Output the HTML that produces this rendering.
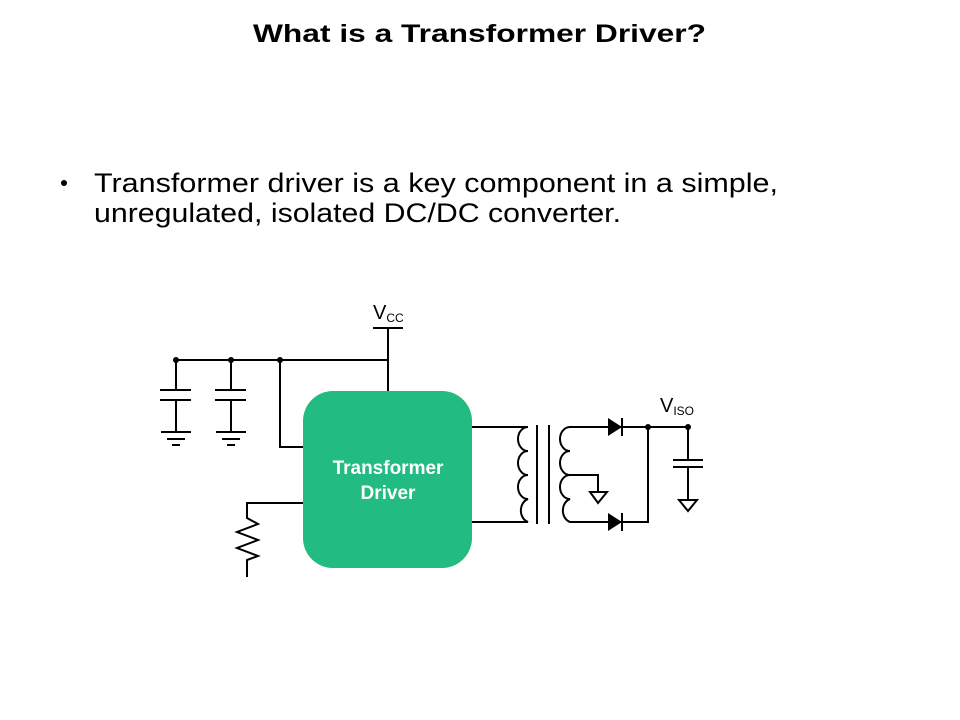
<!DOCTYPE html>
<html><head><meta charset="utf-8"><style>html,body{margin:0;padding:0;background:#fff}svg{display:block}</style></head>
<body>
<svg width="960" height="720" viewBox="0 0 960 720" xmlns="http://www.w3.org/2000/svg" font-family="Liberation Sans, sans-serif">
<text x="253" y="42" font-size="25" font-weight="bold" textLength="453" lengthAdjust="spacingAndGlyphs">What is a Transformer Driver?</text>
<circle cx="64" cy="183" r="3" fill="#000"/>
<text x="94" y="192" font-size="27" textLength="684" lengthAdjust="spacingAndGlyphs">Transformer driver is a key component in a simple,</text>
<text x="94" y="222" font-size="27" textLength="527" lengthAdjust="spacingAndGlyphs">unregulated, isolated DC/DC converter.</text>

<g stroke="#000" stroke-width="2" fill="none">
<line x1="373" y1="328" x2="403" y2="328"/>
<line x1="388" y1="328" x2="388" y2="392"/>
<line x1="176" y1="360" x2="388" y2="360"/>
<path d="M176 360V390M160 390H191M160 400H191M176 400V432M161 432H191M167 439H185M172 445H180"/>
<path d="M231 360V390M215 390H246M215 400H246M231 400V432M216 432H246M222 439H240M227 445H235"/>
<path d="M280 360V447H304"/>
<path d="M304 503H247V518L258 524L237 532L258 540L237 548L258 556L247 560V577"/>
<path d="M472 427H528 A10 12 0 0 0 528 451 A10 12 0 0 0 528 475 A10 12 0 0 0 528 499 A10 12 0 0 0 528 522 H472"/>
<line x1="537" y1="425" x2="537" y2="524"/>
<line x1="549" y1="425" x2="549" y2="524"/>
<path d="M620 427H570 A10 12 0 0 0 570 451 A10 12 0 0 0 570 475 A10 12 0 0 0 570 499 A10 12 0 0 0 570 522 H620"/>
<path d="M570 475H598V492"/>
<path d="M590 492H607L598 503Z"/>
<path d="M620 427H688M620 522H648V427"/>
<path d="M688 427V460M673 460H703M673 467H703M688 467V500"/>
<path d="M679 500H697L688 511Z"/>
</g>
<g fill="#000">
<circle cx="176" cy="360" r="3"/><circle cx="231" cy="360" r="3"/><circle cx="280" cy="360" r="3"/>
<circle cx="648" cy="427" r="3"/><circle cx="688" cy="427" r="3"/>
<path d="M608 418L622 427L608 436Z"/><rect x="621" y="418" width="2" height="18"/>
<path d="M608 513L622 522L608 531Z"/><rect x="621" y="513" width="2" height="18"/>
</g>
<text x="373" y="319" font-size="20">V<tspan font-size="12" dy="3">CC</tspan></text>
<text x="660" y="412" font-size="20">V<tspan font-size="12" dy="3">ISO</tspan></text>
<rect x="303" y="391" width="169" height="177" rx="30" fill="#22bb82"/>
<text x="388" y="474" font-size="19" font-weight="bold" fill="#fff" text-anchor="middle">Transformer</text>
<text x="388" y="499" font-size="19" font-weight="bold" fill="#fff" text-anchor="middle">Driver</text>
</svg>
</body></html>
